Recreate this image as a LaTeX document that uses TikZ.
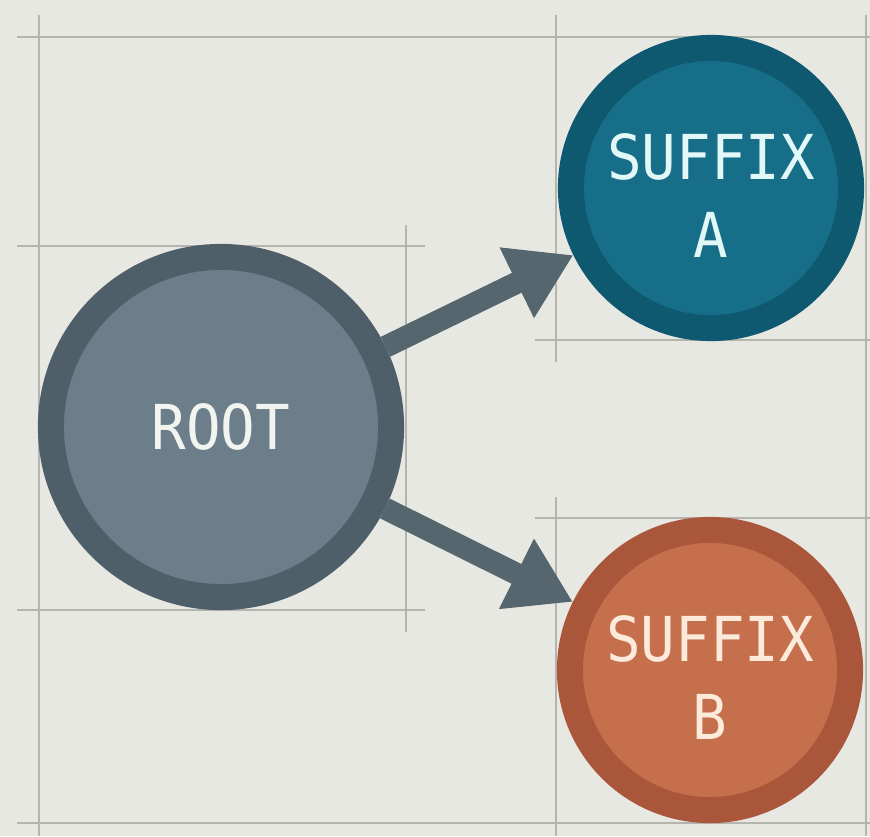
\documentclass[tikz,border=0pt]{standalone}
\usepackage{fontspec}
\usetikzlibrary{arrows.meta}
\newfontfamily\labelfont[FakeStretch=0.93]{DejaVu Sans Mono}
\definecolor{bgc}{HTML}{E8E8E3}
\definecolor{gridc}{HTML}{B5B5B0}
\definecolor{rootring}{HTML}{4E5F69}
\definecolor{rootfill}{HTML}{6C7E89}
\definecolor{aring}{HTML}{0E5870}
\definecolor{afill}{HTML}{176E88}
\definecolor{bring}{HTML}{A9563A}
\definecolor{bfill}{HTML}{C56F4D}
\definecolor{arrc}{HTML}{56666F}
\definecolor{txtw}{HTML}{F2F4F0}
\definecolor{txta}{HTML}{E2F7F7}
\definecolor{txtb}{HTML}{FCEADB}
\tikzset{
  gridline/.style={draw=gridc, line width=0.6pt},
  bubble/.style={circle, line width=0.26cm, align=center,
    font=\labelfont\fontsize{17.6}{22.2}\selectfont, inner sep=0pt},
  rootnode/.style={bubble, draw=rootring, fill=rootfill, text=txtw, minimum size=3.40cm},
  twoline/.style={text height=39.6pt, text depth=0pt},
  anode/.style={bubble, twoline, draw=aring, fill=afill, text=txta, minimum size=2.80cm},
  bnode/.style={bubble, twoline, draw=bring, fill=bfill, text=txtb, minimum size=2.80cm},
  conn/.style={draw=arrc, line width=0.22cm, -{Triangle[length=0.63cm, width=0.74cm]}, arrc}
}
\begin{document}
\begin{tikzpicture}[x=0.01cm, y=-0.01cm]
\fill[bgc] (0,0) rectangle (870,836);
\useasboundingbox (0,0) rectangle (870,836);
% grid lines
\draw[gridline] (17,37) -- (870,37);
\draw[gridline] (17,246) -- (425,246);
\draw[gridline] (17,610) -- (425,610);
\draw[gridline] (535,340) -- (870,340);
\draw[gridline] (535,518) -- (870,518);
\draw[gridline] (17,823) -- (870,823);
\draw[gridline] (39,15) -- (39,836);
\draw[gridline] (556,15) -- (556,362);
\draw[gridline] (406,225) -- (406,632);
\draw[gridline] (556,497) -- (556,836);
\draw[gridline] (866,15) -- (866,836);
% nodes
\node[rootnode] (root) at (221,427) {ROOT};
\node[anode] (sa) at (711,188) {SUFFIX\\A};
\node[bnode] (sb) at (710,670) {SUFFIX\\B};
% connectors
\draw[conn] (root) -- (sa);
\draw[conn] (root) -- (sb);
\end{tikzpicture}
\end{document}
